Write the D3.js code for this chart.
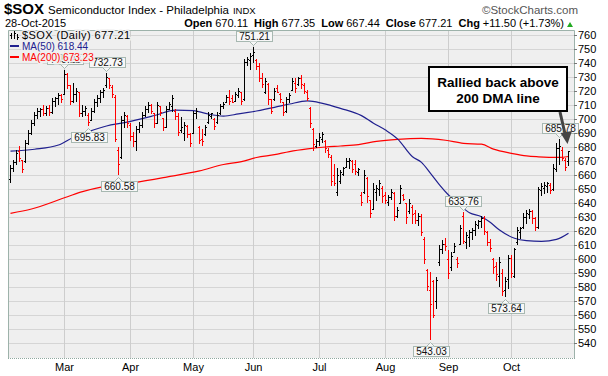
<!DOCTYPE html>
<html>
<head>
<meta charset="utf-8">
<script src="https://cdn.jsdelivr.net/npm/d3@7"></script>
<style>
  body { margin: 0; background: #fff; }
  svg { display: block; font-family: "Liberation Sans", Arial, sans-serif; }
</style>
</head>
<body>
<div id="chart"></div>
<script>
// daily bars per month: [open, high, low, close]
const feb = [
  [657,667,655,665],[665,671,663,669],[669,678,668,676],[677,681,670,672],[671,671,662,664],
  [670,685,669,683],[683,692,682,690],[690,699,689,697],[697,705,696,703],[703,707.6,700.5,706],
  [706,708,702,707],[707,710,703,704],[704,709,703,708],[708,710,703,705],[705,714.8,704,713],
  [713,716,709,715],[715,718.3,711,717],[717,718,712,714]
];
const mar = [
  [718,735.22,718,732],[732,733,722,724],[724,724.5,711,713],[713,726,712,718],[718,722,713,720],
  [719,719.5,702,704],[704,710,702,706],[706,709,703,708],[703,704,695.83,698],[699,708,699,706],
  [706,714,705,712],[712,717,709,715],[715,721,712,719],[719,722,716,721],[724,732.73,723,730],
  [729,729.5,722,724],[723,724,716,718],[716,717,684,686],[678,680,660.58,668],[673,702,672,699],
  [699,705,694,703],[702,703,694,697]
];
const apr = [
  [696,697,685,688],[688,691,681,684],[684,695,678,693],[693,698,691,696],[696,705,694,703],
  [703,709,702,707],[707,712,705,710],[710,711,704,706],[704,704,694.5,697],[697,712,697,710],
  [709,709,703,705],[701,701,692,694],[694,709,694,707],[707,712,707,711],[709,717,706,715],
  [706,707,700,702],[702,704,688.6,691],[692,701.7,691,694],[690,698,685,696],[695,696,687,689],
  [689,690,681,683]
];
const may = [
  [690,706,689.8,704],[704,707.6,701,706],[694,695,682.6,685],[686,693,681.4,684],[689,695.7,688.6,694],
  [698,705,697.5,703],[702,704.5,700.5,704],[700,701,693,695],[698,705,697.5,703],[704,711,703.5,709],
  [709,712.5,707.6,711],[712,717,712,716],[716,720.7,711,713],[715,717,712,712.5],[713,719.5,713,718],
  [717,722,716,720],[719,719.5,711,713],[714,743,713.6,741],[741,744.5,738.6,743],[742,747,736,745]
];
const jun = [
  [746,751.21,741,748],[742,743,736,738],[738,739.8,727,729],[729,732.6,723,725],[719,729,718.3,727],
  [725,726,711,714],[714,714,704,706],[714,722,713.6,720],[722,724,719,719.5],[718,718.3,712.4,714],
  [712,712,703,705],[706,716,705,714],[714,718.3,712.4,717],[721,729,720.7,727],[726,729,719.5,722],
  [725,730,724,729],[729,731.4,722,725],[724,725.5,718.3,720],[719,720.7,713.6,715],[708,708.8,694.5,697],
  [693,693.3,678,682],[681,686,680,684]
];
const jul = [
  [684,689.8,681.4,687],[686,691,683.8,689],[684,685,676.7,679],[678,679,673,675],[673,674,653,656],
  [660,668,653,654],[648,664.8,645.7,660],[656,663.6,654,662],[661,666,660,665],[666,672,666,670],
  [670,672,665,671],[670,670.7,662.4,664],[668,670.7,661,663],[662,665,660,664.5],[646,648,638.6,641],
  [648,663.6,647,660],[658,658.8,641,645],[642,642,630.2,633],[636,654,636,650],[648,652.9,642,651],
  [650,656.4,645.7,654],[651,652,641,645]
];
const aug = [
  [646,648,640,642],[641,646,638.6,644],[644,650,643,648],[647,648,628,631],[631,637,630,635],
  [640,653,640,651],[646,646.5,642,643],[640,640,625.5,630],[634,643,633,640],[637,638.6,625.5,632],
  [633,635,625.5,628],[628,632.6,624.3,631],[631,632,617,619],[614,616,597,600],[592,592.6,578,581],
  [578,591,543.03,568],[584,585,558.8,560],[570,587.4,564.8,585],[598,610,595.7,607],[607,613.6,604,611],
  [611,614.8,606.4,609]
];
const sep = [
  [600,606.4,586.2,590],[594,605.2,592,602],[605,611.2,605,609],[600,601.7,594.5,597],[611,624.3,611,622],
  [631,633.76,611.2,613],[612,619.5,607.6,617],[616,621,609,619],[619,622,614,621],[621,627,617,625],
  [624,628,622,627],[627,631,623,629],[629,631,618,620],[619,620,610,612],[612,614,606,608],
  [600,601,590,594],[595,598,585,589],[588,601.7,581,598],[590,593,574.5,577],[578,587,573.64,584],
  [586,603,579,601]
];
const oct = [
  [601,603,587.4,590],[588,608,587,607],[612,623,611,621],[619,623,615,622],[623,632.6,622,630],
  [630,635,626,633],[632,636,629,634],[634,635,626,629],[629,630,620.7,623],[623,651.7,622,650],
  [649,654,645.7,652],[651,655,647,653],[652,655,648,654],[653,654.5,647,649],[650,668,649,665],
  [664,682.6,663,679],[679,685.78,668,681],[678,680.3,670.7,672],[671,672,663.6,665.71],
  [670.11,677.35,667.44,677.21]
];
const monthNames = ['Feb', 'Mar', 'Apr', 'May', 'Jun', 'Jul', 'Aug', 'Sep', 'Oct'];

// moving averages: [bar index, value]
const ma50 = [
  [0,677],[8,678.4],[16,681.4],[21,687],[26,691],[32,695],[38,697.4],[48,702.5],[55,706.4],[61,706],
  [65,704],[71,702.1],[76,703.6],[82,705.7],[88,708.3],[93,710.7],[99,712.9],[104,711.2],[110,707.6],
  [117,702.4],[121,697],[125,692.1],[129,685.8],[134,673],[137,669],[140,661.2],[143,653],[146,645.7],
  [150,637.9],[153,633],[157,630.2],[160,626],[163,620.7],[168,614.8],[172,613.1],[177,612.6],
  [182,614],[186,618.44]
];
const ma200 = [
  [0,632.6],[7,635.7],[19,644.5],[24,648.1],[31,651.7],[41,654.5],[52,658.5],[63,662.9],[71,667.5],
  [77,669.5],[82,672.5],[88,674.5],[93,676.7],[99,678.6],[105,680],[110,680.7],[116,681.7],[122,684],
  [129,685.5],[137,686.2],[145,684.8],[151,682.6],[157,682],[161,678.5],[167,675.5],[172,673.6],
  [176,673],[183,672.6],[186,673.23]
];

// price tags: [bar index, 'high' | 'low', text]
const tags = [
  [18, 'high', '735.22'], [32, 'high', '732.73'], [26, 'low', '695.83'], [36, 'low', '660.58'],
  [81, 'high', '751.21'], [140, 'low', '543.03'], [151, 'high', '633.76'], [165, 'low', '573.64'],
  [183, 'high', '685.78']
];
const yTicks = d3.range(540, 761, 10);

const W = 608, H = 376;
const plot = { left: 8, right: 574, top: 30, bottom: 358 };

const months = [feb, mar, apr, may, jun, jul, aug, sep, oct];
const bars = [];
const monthStart = [];
months.forEach((m) => {
  monthStart.push(bars.length);
  m.forEach((d) => bars.push({ open: d[0], high: d[1], low: d[2], close: d[3] }));
});
bars.forEach((d, i) => {
  d.i = i;
  d.up = i === 0 ? d.close >= d.open : d.close >= bars[i - 1].close;
});

const x = d3.scaleLinear().domain([0, bars.length - 1]).range([10, 10 + 3 * (bars.length - 1)]);
const y = d3.scaleLinear().domain([540, 760]).range([343, 35]);

const svg = d3.select('#chart').append('svg').attr('width', W).attr('height', H);

// plot background
svg.append('rect')
  .attr('x', plot.left).attr('y', plot.top)
  .attr('width', plot.right - plot.left).attr('height', plot.bottom - plot.top)
  .attr('fill', '#efefef');

// gridlines
svg.append('g').selectAll('line').data(yTicks).enter().append('line')
  .attr('x1', plot.left).attr('x2', plot.right)
  .attr('y1', (d) => Math.round(y(d)) + 0.5).attr('y2', (d) => Math.round(y(d)) + 0.5)
  .attr('stroke', '#d5d5d5');

svg.append('g').selectAll('line').data(monthStart.slice(1)).enter().append('line')
  .attr('x1', (d) => x(d) + 0.5).attr('x2', (d) => x(d) + 0.5)
  .attr('y1', plot.top).attr('y2', plot.bottom)
  .attr('stroke', '#cdcdcd');

// frame
svg.append('path')
  .attr('d', `M${plot.left + 0.5},${plot.bottom}V${plot.top + 0.5}H${plot.right + 0.5}V${plot.bottom}`)
  .attr('fill', 'none').attr('stroke', '#9db2aa');
svg.append('line')
  .attr('x1', plot.left).attr('x2', plot.right + 1)
  .attr('y1', plot.bottom + 0.5).attr('y2', plot.bottom + 0.5)
  .attr('stroke', '#8fa89f').attr('stroke-dasharray', '1,1');

// moving averages
const maLine = d3.line()
  .x((d) => x(d[0]) + 0.5)
  .y((d) => y(d[1]))
  .curve(d3.curveMonotoneX);

svg.append('path').datum(ma200)
  .attr('d', maLine).attr('fill', 'none')
  .attr('stroke', '#ff0000').attr('stroke-width', 1.2);
svg.append('path').datum(ma50)
  .attr('d', maLine).attr('fill', 'none')
  .attr('stroke', '#20208f').attr('stroke-width', 1.2);

// OHLC bars
const g = svg.append('g').attr('shape-rendering', 'crispEdges');
const barG = g.selectAll('g').data(bars).enter().append('g')
  .attr('fill', (d) => (d.up ? '#000' : '#ff0000'));
barG.append('rect')
  .attr('x', (d) => x(d.i))
  .attr('y', (d) => Math.round(y(d.high)))
  .attr('width', 1)
  .attr('height', (d) => Math.max(1, Math.round(y(d.low)) - Math.round(y(d.high)) + 1));
barG.append('rect')
  .attr('x', (d) => x(d.i) - 1)
  .attr('y', (d) => Math.round(y(d.open)))
  .attr('width', 1).attr('height', 1);
barG.append('rect')
  .attr('x', (d) => x(d.i) + 1)
  .attr('y', (d) => Math.round(y(d.close)))
  .attr('width', 1).attr('height', 1);

// price tags
tags.forEach(([i, kind, text]) => {
  const cx = x(i) + 0.5;
  const tg = svg.append('g');
  const label = tg.append('text')
    .attr('font-size', 10).attr('text-anchor', 'middle').attr('fill', '#111')
    .text(text);
  const tw = label.node().getComputedTextLength();
  const bw = Math.round(tw + 5), bh = 10;
  let by, tip;
  if (kind === 'high') {
    by = Math.round(y(bars[i].high)) - 6 - bh;
    tip = `M${cx - 4},${by + bh + 0.5}L${cx},${by + bh + 4.5}L${cx + 4},${by + bh + 0.5}`;
  } else {
    by = Math.round(y(bars[i].low)) + 7;
    tip = `M${cx - 4},${by + 0.5}L${cx},${by - 3.5}L${cx + 4},${by + 0.5}`;
  }
  const bx = Math.round(cx - bw / 2);
  tg.insert('rect', 'text')
    .attr('x', bx + 0.5).attr('y', by + 0.5)
    .attr('width', bw).attr('height', bh)
    .attr('fill', '#f7f7f7').attr('stroke', '#a7b8b1');
  tg.insert('path', 'text').attr('d', tip)
    .attr('fill', '#f7f7f7').attr('stroke', '#a7b8b1');
  label.attr('x', bx + bw / 2 + 0.5).attr('y', by + 9);
});

// legend (drawn over the tags, with a halo like the original)
const legend = svg.append('g')
  .attr('stroke', '#efefef').attr('stroke-width', 3)
  .attr('paint-order', 'stroke');
const icon = legend.append('g').attr('fill', '#000').attr('stroke', 'none');
[[11, 33, 6], [14, 31, 8], [17, 34, 6]].forEach(([ix, iy, ih]) => {
  icon.append('rect').attr('x', ix).attr('y', iy).attr('width', 1).attr('height', ih);
});
icon.append('rect').attr('x', 10).attr('y', 35).attr('width', 1).attr('height', 1);
icon.append('rect').attr('x', 15).attr('y', 33).attr('width', 1).attr('height', 1);
icon.append('rect').attr('x', 18).attr('y', 37).attr('width', 1).attr('height', 1);
legend.append('text').attr('x', 22).attr('y', 39).attr('fill', '#000')
  .attr('font-size', 11).attr('letter-spacing', 0.4)
  .text(`$SOX (Daily) ${d3.format('.2f')(bars[bars.length - 1].close)}`);
legend.append('rect').attr('x', 10).attr('y', 45).attr('width', 9).attr('height', 2)
  .attr('fill', '#20208f').attr('stroke', 'none');
legend.append('text').attr('x', 22).attr('y', 50).attr('fill', '#20208f')
  .attr('font-size', 10)
  .text(`MA(50) ${ma50[ma50.length - 1][1]}`);
legend.append('rect').attr('x', 10).attr('y', 56).attr('width', 9).attr('height', 2)
  .attr('fill', '#ff0000').attr('stroke', 'none');
legend.append('text').attr('x', 22).attr('y', 61).attr('fill', '#ff0000')
  .attr('font-size', 10)
  .text(`MA(200) ${ma200[ma200.length - 1][1]}`);

// right y axis
const yAxis = svg.append('g').attr('font-size', 11).attr('fill', '#000');
yAxis.selectAll('line').data(yTicks).enter().append('line')
  .attr('x1', plot.right).attr('x2', plot.right + 3)
  .attr('y1', (d) => Math.round(y(d)) + 0.5).attr('y2', (d) => Math.round(y(d)) + 0.5)
  .attr('stroke', '#777');
yAxis.selectAll('text').data(yTicks).enter().append('text')
  .attr('x', 578).attr('y', (d) => y(d) + 4)
  .text((d) => d);

// month labels
svg.append('g').attr('font-size', 11).attr('text-anchor', 'middle')
  .selectAll('text').data(monthStart.slice(1)).enter().append('text')
  .attr('x', (d) => x(d) + 0.5).attr('y', 371)
  .text((d, k) => monthNames[k + 1]);

// annotation box and arrow
svg.append('rect')
  .attr('x', 429).attr('y', 67).attr('width', 138).attr('height', 44)
  .attr('fill', '#fff').attr('stroke', '#000').attr('stroke-width', 2);
const note = svg.append('text').attr('font-size', 13.5).attr('font-weight', 'bold')
  .attr('text-anchor', 'middle');
note.append('tspan').attr('x', 498).attr('y', 87).text('Rallied back above');
note.append('tspan').attr('x', 498).attr('y', 103).text('200 DMA line');
svg.append('line')
  .attr('x1', 560).attr('y1', 112).attr('x2', 565.5).attr('y2', 136)
  .attr('stroke', '#444').attr('stroke-width', 3);
svg.append('path').attr('d', 'M560.5,133L572,131L567.5,144Z').attr('fill', '#444');

// header
const head = svg.append('text').attr('x', 4).attr('y', 14).attr('fill', '#000');
head.append('tspan').attr('font-size', 15).attr('font-weight', 'bold').text('$SOX');
head.append('tspan').attr('font-size', 11.5).attr('dx', 4).text('Semiconductor Index - Philadelphia');
head.append('tspan').attr('font-size', 9.5).attr('dx', 4).text('INDX');
svg.append('text').attr('x', 578).attr('y', 14).attr('text-anchor', 'end')
  .attr('font-size', 11.5).attr('fill', '#555').text('\u00A9StockCharts.com');

svg.append('text').attr('x', 5).attr('y', 27).attr('font-size', 11).text('28-Oct-2015');
const last = bars[bars.length - 1];
const quote = svg.append('text').attr('x', 564).attr('y', 27).attr('font-size', 11)
  .attr('text-anchor', 'end');
const fmt = d3.format('.2f');
[['Open', fmt(last.open)], ['High', fmt(last.high)], ['Low', fmt(last.low)],
  ['Close', fmt(last.close)], ['Chg', '+11.50 (+1.73%)']].forEach(([k, v], j) => {
  quote.append('tspan').attr('font-weight', 'bold').attr('dx', j ? 6 : 0).text(k);
  quote.append('tspan').attr('dx', 3).text(v);
});
svg.append('path').attr('d', 'M567,27L573,27L570,22Z').attr('fill', '#22aa22');
</script>
</body>
</html>
